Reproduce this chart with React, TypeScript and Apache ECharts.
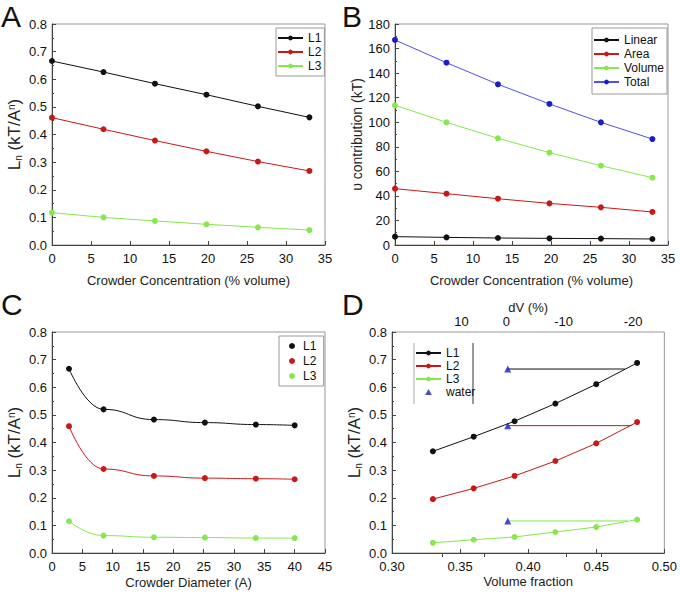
import React, { useEffect, useRef } from "react";
import * as echarts from "echarts";

const FONT = '"Liberation Sans", Arial, sans-serif';

// Panel A: L_n vs crowder concentration
const concA = [0, 6.6, 13.2, 19.8, 26.4, 33];
const aL1 = [0.666, 0.626, 0.584, 0.544, 0.502, 0.462];
const aL2 = [0.461, 0.419, 0.378, 0.339, 0.302, 0.268];
const aL3 = [0.117, 0.1, 0.087, 0.075, 0.064, 0.054];

// Panel B: contributions
const concB = [0, 6.6, 13.2, 19.8, 26.4, 33];
const bLinear = [6.8, 6.2, 5.7, 5.4, 5.2, 4.9];
const bArea = [45.9, 41.8, 37.7, 33.9, 30.7, 26.9];
const bVolume = [113.8, 99.9, 86.9, 75.2, 64.6, 54.8];
const bTotal = [167, 148.5, 130.9, 114.9, 99.9, 86.3];

// Panel C: L_n vs crowder diameter
const diamC = [2.8, 8.5, 16.8, 25.2, 33.6, 40];
const cL1 = [0.667, 0.52, 0.483, 0.472, 0.465, 0.462];
const cL2 = [0.459, 0.304, 0.279, 0.271, 0.269, 0.267];
const cL3 = [0.115, 0.063, 0.057, 0.056, 0.054, 0.054];

// Panel D: L_n vs volume fraction
const volFracD = [0.33, 0.36, 0.39, 0.42, 0.45, 0.48];
const dL1 = [0.368, 0.421, 0.477, 0.541, 0.611, 0.688];
const dL2 = [0.195, 0.234, 0.279, 0.333, 0.397, 0.474];
const dL3 = [0.037, 0.048, 0.058, 0.076, 0.094, 0.121];
const waterFrac = 0.385;
const waterL = [0.666, 0.461, 0.116];
const connectorEnd = [0.471, 0.476, 0.473];

// Top axis of panel D (dV %)
const dVLabels = ["10", "0", "-10", "-20"];
const dVLabelPos = [0.351, 0.384, 0.426, 0.477];
const dVTickPos = [0.337, 0.368, 0.428, 0.454];

const BLACK = "#111111";
const RED = "#c81818";
const GREEN = "#86e84e";
const BLUE = "#1c1ccc";

const zip = (xs: number[], ys: number[]) => xs.map((x, i) => [x, ys[i]]);

const lineSeries = (name: string, xi: number, xs: number[], ys: number[], color: string, extra: any = {}) => ({
  type: "line",
  name,
  xAxisIndex: xi,
  yAxisIndex: xi,
  data: zip(xs, ys),
  symbol: "circle",
  symbolSize: 6,
  lineStyle: { color, width: 1 },
  itemStyle: { color },
  ...extra,
});

const axisLineStyle = { color: "#444", width: 1 };

const xAxisCfg = (gi: number, min: number, max: number, interval: number, name: string, nameGap: number, dec = 0) => ({
  type: "value",
  gridIndex: gi,
  min,
  max,
  interval,
  name,
  nameLocation: "middle",
  nameGap,
  nameTextStyle: { fontSize: 13, color: "#222", fontFamily: FONT },
  axisLine: { onZero: false, lineStyle: axisLineStyle },
  axisTick: { inside: true, length: 4, lineStyle: axisLineStyle },
  splitLine: { show: false },
  axisLabel: {
    fontSize: 13,
    color: "#111",
    fontFamily: FONT,
    margin: 7,
    formatter: (v: number) => v.toFixed(dec),
  },
});

const yRich = {
  m: { fontSize: 17, color: "#222", fontFamily: FONT },
  b: { fontSize: 14, color: "#222", fontFamily: FONT },
  sub: { fontSize: 10, color: "#222", fontFamily: FONT, verticalAlign: "bottom" },
  sup: { fontSize: 10, color: "#222", fontFamily: FONT, verticalAlign: "top" },
};

const yAxisCfg = (gi: number, min: number, max: number, interval: number, name: string, nameGap: number, dec: number) => ({
  type: "value",
  gridIndex: gi,
  min,
  max,
  interval,
  name,
  nameLocation: "middle",
  nameGap,
  nameTextStyle: { fontSize: 14, color: "#222", fontFamily: FONT, rich: yRich },
  axisLine: { onZero: false, lineStyle: axisLineStyle },
  axisTick: { inside: true, length: 4, lineStyle: axisLineStyle },
  minorTick: { show: true, splitNumber: 2, length: 2, lineStyle: axisLineStyle },
  splitLine: { show: false },
  axisLabel: {
    fontSize: 13,
    color: "#111",
    fontFamily: FONT,
    margin: 5,
    formatter: (v: number) => v.toFixed(dec),
  },
});

const legendCfg = (left: number, top: number, names: any[], extra: any = {}) => ({
  left,
  top,
  orient: "vertical",
  data: names,
  itemWidth: 25,
  itemHeight: 6,
  itemGap: 2,
  padding: [4, 3, 4, 1],
  borderColor: "#999",
  borderWidth: 1,
  textStyle: { fontSize: 12, color: "#111", fontFamily: FONT, lineHeight: 12 },
  ...extra,
});

const LNAME = "{m|L}{sub|n}{m| (kT/A}{sup|n}{m|)}";

export default function App() {
  const ref = useRef<HTMLDivElement>(null);
  useEffect(() => {
    if (!ref.current) return;
    const chart = echarts.init(ref.current, undefined, { renderer: "svg" });
    const titleStyle = { fontSize: 30, fontWeight: "normal", color: "#111", fontFamily: FONT, lineHeight: 28 };
    const option: any = {
      animation: false,
      backgroundColor: "#fff",
      textStyle: { fontFamily: FONT },
      title: [
        { text: "A", left: 1, top: 2, padding: 0, textStyle: titleStyle },
        { text: "B", left: 342, top: 2, padding: 0, textStyle: titleStyle },
        { text: "C", left: 1, top: 290, padding: 0, textStyle: titleStyle },
        { text: "D", left: 342, top: 290, padding: 0, textStyle: titleStyle },
      ],
      grid: [
        { left: 52, top: 24, width: 273, height: 221, show: true, borderColor: "#999", borderWidth: 1 },
        { left: 395, top: 24, width: 273, height: 221, show: true, borderColor: "#999", borderWidth: 1 },
        { left: 52, top: 332, width: 273, height: 221, show: true, borderColor: "#999", borderWidth: 1 },
        { left: 392, top: 332, width: 274, height: 221, show: true, borderColor: "#999", borderWidth: 1 },
      ],
      xAxis: [
        xAxisCfg(0, 0, 35, 5, "Crowder Concentration (% volume)", 29),
        xAxisCfg(1, 0, 35, 5, "Crowder Concentration (% volume)", 29),
        xAxisCfg(2, 0, 45, 5, "Crowder Diameter (A)", 23),
        xAxisCfg(3, 0.3, 0.5, 0.05, "Volume fraction", 22, 2),
        {
          type: "value",
          gridIndex: 3,
          position: "top",
          min: 0.3,
          max: 0.5,
          name: "dV (%)",
          nameLocation: "middle",
          nameGap: 18,
          nameTextStyle: { fontSize: 13, color: "#222", fontFamily: FONT },
          axisLine: { show: false },
          splitLine: { show: false },
          axisTick: { inside: true, length: 4, customValues: dVTickPos, lineStyle: axisLineStyle },
          axisLabel: {
            fontSize: 13,
            color: "#111",
            fontFamily: FONT,
            margin: 4,
            customValues: dVLabelPos,
            formatter: (v: number) => {
              let best = 0;
              dVLabelPos.forEach((p, i) => {
                if (Math.abs(p - v) < Math.abs(dVLabelPos[best] - v)) best = i;
              });
              return dVLabels[best];
            },
          },
        },
      ],
      yAxis: [
        yAxisCfg(0, 0, 0.8, 0.1, LNAME, 29, 1),
        yAxisCfg(1, 0, 180, 20, "{b|\u03c5 contribution (kT)}", 30, 0),
        yAxisCfg(2, 0, 0.8, 0.1, LNAME, 29, 1),
        yAxisCfg(3, 0, 0.8, 0.1, LNAME, 29, 1),
      ],
      legend: [
        legendCfg(276, 28, ["L1", "L2", "L3"]),
        legendCfg(592, 28, ["Linear", "Area", "Volume", "Total"], { padding: [6, 3, 6, 1] }),
        legendCfg(
          279,
          336,
          [
            { name: "L1 ", icon: "circle" },
            { name: "L2 ", icon: "circle" },
            { name: "L3 ", icon: "circle" },
          ],
          { itemWidth: 6, itemHeight: 6, padding: [4, 4, 4, 10], itemGap: 3, textStyle: { fontSize: 12, color: "#111", fontFamily: FONT, lineHeight: 12, padding: [0, 0, 0, 3] } }
        ),
        legendCfg(
          414,
          343,
          [
            "L1  ",
            "L2  ",
            "L3  ",
            { name: "water", icon: "path://M5,0 L10,9 L0,9 Z" },
          ],
          { borderWidth: 0, padding: [4, 2, 4, 1], itemGap: 1, symbolKeepAspect: true }
        ),
      ],
      graphic: [
        { type: "line", shape: { x1: 414, y1: 343, x2: 414, y2: 404 }, style: { stroke: "#aaa", lineWidth: 1 } },
        { type: "line", shape: { x1: 473, y1: 343, x2: 473, y2: 404 }, style: { stroke: "#333", lineWidth: 1 } },
      ],
      series: [
        lineSeries("L1", 0, concA, aL1, BLACK),
        lineSeries("L2", 0, concA, aL2, RED),
        lineSeries("L3", 0, concA, aL3, GREEN),
        lineSeries("Linear", 1, concB, bLinear, BLACK),
        lineSeries("Area", 1, concB, bArea, RED),
        lineSeries("Volume", 1, concB, bVolume, GREEN),
        lineSeries("Total", 1, concB, bTotal, BLUE, { lineStyle: { color: "#5050f0", width: 1 } }),
        lineSeries("L1 ", 2, diamC, cL1, BLACK, { smooth: 0.5, smoothMonotone: "x" }),
        lineSeries("L2 ", 2, diamC, cL2, RED, { smooth: 0.5, smoothMonotone: "x" }),
        lineSeries("L3 ", 2, diamC, cL3, GREEN, { smooth: 0.5, smoothMonotone: "x" }),
        lineSeries("L1  ", 3, volFracD, dL1, BLACK),
        lineSeries("L2  ", 3, volFracD, dL2, RED),
        lineSeries("L3  ", 3, volFracD, dL3, GREEN),
        ...[BLACK, RED, GREEN].map((c, i) => ({
          type: "line",
          name: "conn" + i,
          xAxisIndex: 3,
          yAxisIndex: 3,
          data: [
            [waterFrac, waterL[i]],
            [connectorEnd[i], waterL[i]],
          ],
          symbol: "none",
          lineStyle: { color: c, width: 1 },
          z: 1,
        })),
        {
          type: "scatter",
          name: "water",
          xAxisIndex: 3,
          yAxisIndex: 3,
          data: waterL.map((v) => [waterFrac, v]),
          symbol: "triangle",
          symbolSize: 7,
          itemStyle: { color: BLUE },
          z: 5,
        },
      ],
    };
    chart.setOption(option);
    return () => chart.dispose();
  }, []);
  return (
    <div
      ref={ref}
      style={{ position: "fixed", left: 0, top: 0, width: 680, height: 597, background: "#fff" }}
    />
  );
}
